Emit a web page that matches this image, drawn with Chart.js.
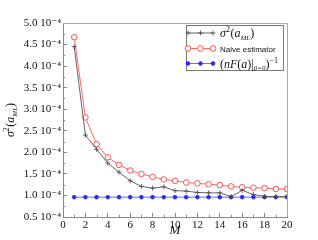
<!DOCTYPE html>
<html><head><meta charset="utf-8">
<script src="https://cdn.jsdelivr.net/npm/chart.js@4.4.1/dist/chart.umd.min.js"></script>
<style>html,body{margin:0;padding:0;background:#fff;}#wrap{width:318px;height:240px;}</style>
</head><body><div id="wrap"><canvas id="c" width="318" height="240"></canvas></div>
<script>
const M = [1,2,3,4,5,6,7,8,9,10,11,12,13,14,15,16,17,18,19,20];
const sigmaML = [4.45,2.40,2.07,1.75,1.54,1.34,1.21,1.17,1.20,1.11,1.10,1.07,1.06,1.06,0.97,1.12,1.02,0.98,0.97,0.98].map(v=>v*1e-4);
const naive = [4.67,2.81,2.19,1.885,1.71,1.58,1.50,1.43,1.37,1.34,1.30,1.28,1.26,1.24,1.21,1.19,1.18,1.17,1.15,1.15].map(v=>v*1e-4);
const crb = [0.96,0.96,0.96,0.96,0.96,0.96,0.96,0.96,0.96,0.96,0.96,0.96,0.96,0.96,0.96,0.96,0.96,0.96,0.96,0.96].map(v=>v*1e-4);
const yTickValues = [0.5,1.0,1.5,2.0,2.5,3.0,3.5,4.0,4.5,5.0].map(v=>v*1e-4);
const yTickLabels = ['0.5 10⁻⁴','1.0 10⁻⁴','1.5 10⁻⁴','2.0 10⁻⁴','2.5 10⁻⁴','3.0 10⁻⁴','3.5 10⁻⁴','4.0 10⁻⁴','4.5 10⁻⁴','5.0 10⁻⁴'];
const xTickValues = [0,2,4,6,8,10,12,14,16,18,20];
const seriesLabels = ['σ²(a_ML)','Naive estimator','(nF(a)|β=0)⁻¹'];
const xTitle = 'M';
const yTitle = 'σ²(a_ML)';

const SERIF = "'Liberation Serif','DejaVu Serif',serif";
const SANS = "'Liberation Sans',Arial,sans-serif";

function segs(ctx, parts, x, y, draw){
  let w = 0;
  for (const p of parts){
    ctx.font = p.f;
    if (draw) ctx.fillText(p.t, x + w, y + (p.dy||0));
    w += ctx.measureText(p.t).width + (p.sp||0);
  }
  return w;
}
const it = s => 'italic ' + s + 'px ' + SERIF;
const rm = s => s + 'px ' + SERIF;
const sigmaParts = [
  {t:'σ', f:it(12)}, {t:'2', f:rm(8), dy:-5, sp:0.5}, {t:'(', f:rm(12)}, {t:'a', f:it(12)},
  {t:'ML', f:it(7), dy:2.5}, {t:')', f:rm(12)}
];
const legendParts = [
  sigmaParts,
  [{t:'Naive estimator', f:'8px ' + SANS, dy:-0.5}],
  [{t:'(', f:rm(12)}, {t:'nF', f:it(12)}, {t:'(', f:rm(12)}, {t:'a', f:it(12)}, {t:')|', f:rm(12)},
   {t:'β=0', f:it(7), dy:2.5}, {t:')', f:rm(12)}, {t:'−1', f:rm(8), dy:-5}]
];

const decor = {
  id:'decor',
  afterDraw(chart){
    const ctx = chart.ctx, a = chart.chartArea;
    const xs = chart.scales.x, ys = chart.scales.y;
    ctx.save();
    ctx.strokeStyle = '#aaa'; ctx.lineWidth = 1;
    ctx.beginPath();
    ctx.moveTo(a.left, a.top + 0.5); ctx.lineTo(a.right + 0.5, a.top + 0.5); ctx.lineTo(a.right + 0.5, a.bottom);
    ctx.stroke();
    ctx.strokeStyle = '#888';
    ctx.beginPath();
    for (let i = 0; i < yTickValues.length - 1; i++){
      const py = Math.round(ys.getPixelForValue((yTickValues[i]+yTickValues[i+1])/2)) + 0.5;
      ctx.moveTo(a.left, py); ctx.lineTo(a.left + 2, py);
    }
    for (let i = 0; i < xTickValues.length - 1; i++){
      const px = Math.round(xs.getPixelForValue((xTickValues[i]+xTickValues[i+1])/2)) + 0.5;
      ctx.moveTo(px, a.bottom); ctx.lineTo(px, a.bottom - 2);
    }
    ctx.stroke();
    ctx.fillStyle = '#111'; ctx.textBaseline = 'alphabetic';
    ctx.font = it(13);
    ctx.textAlign = 'center';
    ctx.fillText(xTitle, (a.left + a.right)/2, 234);
    ctx.textAlign = 'left';
    ctx.save();
    ctx.translate(14, (a.top + a.bottom)/2);
    ctx.rotate(-Math.PI/2);
    const w = segs(ctx, sigmaParts, 0, 0, false);
    segs(ctx, sigmaParts, -w/2, 0, true);
    ctx.restore();
    const bx = 186.5, by = 25.5, bw = 97, bh = 45;
    ctx.fillStyle = '#fff'; ctx.fillRect(bx, by, bw, bh);
    ctx.strokeStyle = '#777'; ctx.lineWidth = 1; ctx.strokeRect(bx, by, bw, bh);
    const rows = [33, 48.5, 63.5];
    chart.data.datasets.forEach((ds, i) => {
      const ry = rows[i];
      ctx.strokeStyle = ds.borderColor; ctx.lineWidth = ds.borderWidth;
      ctx.beginPath(); ctx.moveTo(188, ry); ctx.lineTo(213, ry); ctx.stroke();
      [188, 200.5, 213].forEach(px => {
        ctx.strokeStyle = ds.pointBorderColor; ctx.fillStyle = ds.pointBackgroundColor;
        ctx.lineWidth = ds.pointBorderWidth;
        Chart.helpers.drawPoint(ctx, {pointStyle: ds.pointStyle, radius: ds.pointRadius, rotation: 0, borderWidth: ds.pointBorderWidth}, px, ry);
      });
      ctx.fillStyle = '#111';
      segs(ctx, legendParts[i], 220, ry + 4, true);
    });
    ctx.restore();
  }
};

new Chart(document.getElementById('c'), {
  type: 'line',
  data: {
    labels: M,
    datasets: [
      {label: seriesLabels[0], data: M.map((m,i)=>({x:m, y:sigmaML[i]})), borderColor:'#666', borderWidth:1,
       pointStyle:'cross', pointRadius:2.5, pointBorderColor:'#444', pointBackgroundColor:'#444', pointBorderWidth:0.8, tension:0},
      {label: seriesLabels[1], data: M.map((m,i)=>({x:m, y:naive[i]})), borderColor:'#ff6666', borderWidth:1,
       pointStyle:'circle', pointRadius:2.8, pointBorderColor:'#ff5050', pointBackgroundColor:'#ffffff', pointBorderWidth:1, tension:0},
      {label: seriesLabels[2], data: M.map((m,i)=>({x:m, y:crb[i]})), borderColor:'#6a6aff', borderWidth:1,
       pointStyle:'circle', pointRadius:1.8, pointBorderColor:'#2a2aff', pointBackgroundColor:'#2a2aff', pointBorderWidth:1, tension:0}
    ]
  },
  options: {
    responsive:false, animation:false, devicePixelRatio:1,
    layout:{padding:{left:0, top:23, right:31, bottom:0}},
    plugins:{legend:{display:false}, tooltip:{enabled:false}},
    scales:{
      x:{type:'linear', min:0, max:20,
        afterBuildTicks(s){ s.ticks = xTickValues.map(v=>({value:v})); },
        afterFit(s){ s.height = 23; },
        grid:{drawOnChartArea:false, drawTicks:true, tickLength:-4, color:'#888'},
        border:{display:true, color:'#888'},
        ticks:{padding:6, maxRotation:0, color:'#111', font:{family:SERIF, size:11}, callback:(v)=>String(v)}
      },
      y:{type:'linear', min:0.5e-4, max:5e-4,
        afterBuildTicks(s){ s.ticks = yTickValues.map(v=>({value:v})); },
        afterFit(s){ s.width = 63; },
        grid:{drawOnChartArea:false, drawTicks:true, tickLength:-4, color:'#888'},
        border:{display:true, color:'#888'},
        ticks:{padding:6, color:'#111', font:{family:SERIF, size:11},
          callback:(v, i)=>{ const k = yTickValues.findIndex(t=>Math.abs(t-v)<1e-9); return k>=0 ? yTickLabels[k] : ''; }}
      }
    }
  },
  plugins:[decor]
});
</script></body></html>
